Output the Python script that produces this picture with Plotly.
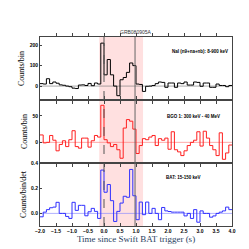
import plotly.graph_objects as go

# ---- data (0.1 s bins from -2.0 to 4.0) ----
bin_start = -2.0
bin_width = 0.1
nai_counts = [12, 10, 36, 12, 20, 14, 6, 4, 0, -3, -10, -12, 5, 6, 3, 13, 2, 15, 10, 210,
              55, 130, 55, 0, -47, 31, 42, 67, 113, 100,
              10, 8, -26, -1, 0, 3, 12, 20, 18, -6, 15, 15, -6, 15, 12, 20, 5, 5, 20, 18,
              -1, 15, 15, -6, -6, 10, 3, 3, -3, 3]
bgo_counts = [14, -1, 0, 13, 4, -16, -4, 3, -8, 5, 22, -8, -11, 8, 8, -9, 3, 13, 10, 70,
              5, -1, -8, -4, -14, -30, 27, 43, 40, 25,
              -21, -6, 7, 5, 10, 13, -6, 7, 4, 8, -13, 20, -14, -18, -25, -16, -6, 0, 4, 20,
              -7, 21, 8, -6, -14, -25, 18, -32, -20, -5]
bat_rate = [-0.027, 0.01, 0.03, 0.045, 0.05, 0.088, 0.0, 0.0, -0.024, -0.04,
            0.088, 0.024, 0.064, 0.064, -0.019, 0.013, 0.04, 0.016, -0.04, 0.344,
            0.168, 0.229, 0.101, -0.064, 0.016, 0.082, 0.136, 0.128, 0.349, 0.14,
            -0.05, 0.09, -0.01, 0.09, 0.0, 0.04, 0.0, -0.05, 0.047, 0.02,
            0.015, 0.01, 0.01, 0.01, 0.01, -0.02, 0.0, -0.04, 0.03, -0.07,
            0.02, 0.0, 0.0, -0.03, -0.02, 0.0, 0.01, 0.02, 0.05, 0.03]
t90_start, t90_end = -0.15, 1.22
trigger_time = 0.0
end_line = 0.97
title_text = "GRB080905A"
labels = ["NaI (n9+na+nb): 8-900 keV", "BGO 1: 300 keV - 40 MeV", "BAT: 15-150 keV"]
ytitles = ["Counts/bin", "Counts/bin", "Counts/bin/det"]
x_ticks = [-2.0, -1.5, -1.0, -0.5, 0.0, 0.5, 1.0, 1.5, 2.0, 2.5, 3.0, 3.5, 4.0]

def steps(vals):
    xs = [round(bin_start + i * bin_width, 3) for i in range(len(vals) + 1)]
    ys = list(vals) + [vals[-1]]
    return xs, ys

fig = go.Figure()
series = [(nai_counts, "black", "y", "rgba(120,120,120,0.8)"),
          (bgo_counts, "#ff2020", "y2", "rgba(255,120,120,0.8)"),
          (bat_rate, "#3030ff", "y3", "rgba(130,130,255,0.8)")]
for vals, col, yax, zcol in series:
    xs, ys = steps(vals)
    fig.add_trace(go.Scatter(x=[-2.0, 4.0], y=[0, 0], mode="lines", xaxis="x", yaxis=yax,
                             line=dict(color=zcol, width=0.8), hoverinfo="skip"))
    fig.add_trace(go.Scatter(x=xs, y=ys, mode="lines", line_shape="hv", xaxis="x", yaxis=yax,
                             line=dict(color=col, width=1)))

tickfont = dict(family="Liberation Sans", size=5, color="black", weight="bold")
serif = dict(family="Liberation Serif", size=8, color="black")
axcommon = dict(showline=True, linecolor="#444", linewidth=1, mirror=True, ticks="inside",
                ticklen=2, tickcolor="#444", showgrid=False, zeroline=False, tickfont=tickfont)

fig.update_layout(
    width=249, height=249, showlegend=False,
    plot_bgcolor="white", paper_bgcolor="white",
    margin=dict(l=32, r=25, t=29, b=31),
    xaxis=dict(range=[-2.0, 4.0], anchor="y3", tickvals=x_ticks, tickformat=".1f",
               title=dict(text="Time since Swift BAT trigger (s)", font=dict(family="Liberation Serif", size=9), standoff=2),
               **{**axcommon, "mirror": "allticks", "ticklen": 3}),
    xaxis2=dict(range=[-2.0, 4.0], anchor="y2", overlaying="x", showticklabels=False, tickvals=x_ticks,
                **{**axcommon, "mirror": "allticks", "ticklen": 3}),
    xaxis3=dict(range=[-2.0, 4.0], anchor="y", overlaying="x", showticklabels=False, tickvals=x_ticks,
                **{**axcommon, "mirror": "allticks", "ticklen": 3}),
    yaxis=dict(domain=[0.6667, 1.0], range=[-68, 240], tickvals=[0, 100, 200], anchor="x",
               title=dict(text=ytitles[0], font=serif, standoff=3), **axcommon),
    yaxis2=dict(domain=[0.3333, 0.6667], range=[-39, 80], tickvals=[0, 50], anchor="x",
                title=dict(text=ytitles[1], font=serif, standoff=3), **axcommon),
    yaxis3=dict(domain=[0.0, 0.3333], range=[-0.1, 0.4], tickvals=[0.0, 0.2, 0.4], tickformat=".1f",
                anchor="x", title=dict(text=ytitles[2], font=serif, standoff=3), **axcommon),
    shapes=[
        dict(type="rect", xref="x", yref="paper", x0=t90_start, x1=t90_end, y0=0, y1=1,
             fillcolor="rgba(255,0,0,0.12)", line=dict(width=0), layer="below"),
        dict(type="line", xref="x", yref="paper", x0=trigger_time, x1=trigger_time, y0=0, y1=1,
             line=dict(color="#555", width=1, dash="dash")),
        dict(type="line", xref="x", yref="paper", x0=end_line, x1=end_line, y0=0, y1=1,
             line=dict(color="#666", width=1)),
    ],
    annotations=[
        dict(text=title_text, x=0.5, y=1.0, xref="paper", yref="paper", xanchor="center", yanchor="bottom",
             showarrow=False, font=dict(family="Liberation Sans", size=5, color="#333")),
        dict(text=labels[0], x=0.988, y=0.922, xref="paper", yref="paper", xanchor="right", yanchor="middle",
             showarrow=False, font=dict(family="Liberation Sans", size=4.5, color="black", weight="bold")),
        dict(text=labels[1], x=0.802, y=0.578, xref="paper", yref="paper", xanchor="center", yanchor="middle",
             showarrow=False, font=dict(family="Liberation Sans", size=4.5, color="black", weight="bold")),
        dict(text=labels[2], x=0.745, y=0.259, xref="paper", yref="paper", xanchor="center", yanchor="middle",
             showarrow=False, font=dict(family="Liberation Sans", size=4.5, color="black", weight="bold")),
    ],
)
fig.write_html("out.html")
